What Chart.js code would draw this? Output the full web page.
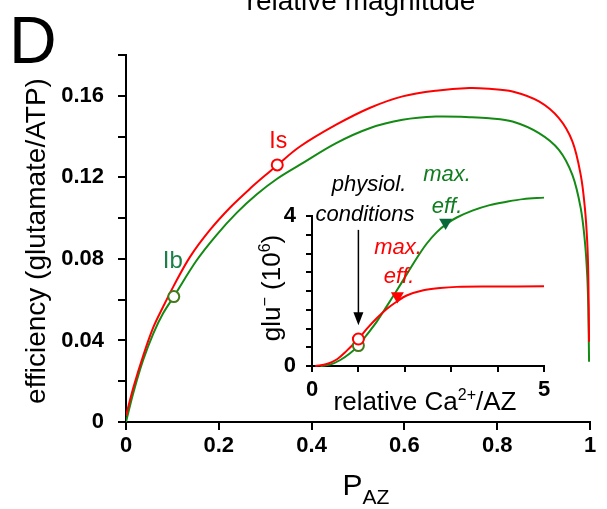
<!DOCTYPE html>
<html lang="en">
<head>
<meta charset="UTF-8" />
<title>Efficiency vs P_AZ</title>
<script src="https://cdn.jsdelivr.net/npm/chart.js"></script>
<style>
  * { margin: 0; padding: 0; box-sizing: border-box; }
  body { background: #fff; width: 607px; height: 509px; overflow: hidden; position: relative; }
  #main { position: absolute; left: 0; top: 0; }
  #inset { position: absolute; left: 250px; top: 150px; }
</style>
</head>
<body>
<canvas id="main" width="607" height="509"></canvas>
<canvas id="inset" width="320" height="280"></canvas>
<script>
// main panel: efficiency vs P_AZ
const redP = [0, 0.016, 0.037, 0.059, 0.08, 0.102, 0.138, 0.181, 0.224, 0.267, 0.31, 0.326, 0.375, 0.453, 0.525, 0.596, 0.668, 0.74, 0.783, 0.833, 0.89, 0.933, 0.962, 0.98, 0.989, 0.994, 0.9963, 0.998];
const redEff = [0.003, 0.017, 0.0325, 0.0465, 0.0565, 0.0664, 0.081, 0.0942, 0.1051, 0.1144, 0.1229, 0.126, 0.1351, 0.1458, 0.154, 0.1597, 0.1625, 0.1638, 0.1634, 0.1621, 0.1572, 0.149, 0.1376, 0.1212, 0.1049, 0.0885, 0.0721, 0.0394];
const greenP = [0, 0.016, 0.037, 0.059, 0.08, 0.103, 0.152, 0.195, 0.239, 0.282, 0.325, 0.375, 0.453, 0.525, 0.596, 0.668, 0.74, 0.783, 0.833, 0.89, 0.933, 0.962, 0.98, 0.989, 0.994, 0.9963, 0.998];
const greenEff = [0, 0.0145, 0.0304, 0.0435, 0.0533, 0.0615, 0.0792, 0.0917, 0.1027, 0.1117, 0.1192, 0.1262, 0.1368, 0.1441, 0.1482, 0.1498, 0.1495, 0.149, 0.1474, 0.1417, 0.1335, 0.1212, 0.1049, 0.0885, 0.0721, 0.056, 0.0296];
const isPoint = [0.326, 0.1261];   // Is
const ibPoint = [0.103, 0.0615];   // Ib
const xTicksMain = [0, 0.2, 0.4, 0.6, 0.8, 1];
const yTicksMain = [0, 0.02, 0.04, 0.06, 0.08, 0.1, 0.12, 0.14, 0.16, 0.18];
const yLabelsMain = [0, 0.04, 0.08, 0.12, 0.16];

// inset: glu- (10^6) vs relative Ca2+/AZ
const greenCa = [0.18, 0.39, 0.61, 0.82, 1.0, 1.18, 1.4, 1.61, 1.83, 2.04, 2.26, 2.47, 2.69, 2.9, 3.12, 3.47, 3.83, 4.19, 4.55, 5.0];
const greenGlu = [0, 0.036, 0.16, 0.34, 0.545, 0.83, 1.19, 1.59, 2.02, 2.44, 2.88, 3.26, 3.57, 3.79, 3.96, 4.15, 4.29, 4.38, 4.45, 4.49];
const redCa = [0.07, 0.32, 0.54, 0.75, 1.0, 1.18, 1.4, 1.61, 1.83, 2.04, 2.4, 2.76, 3.12, 3.83, 5.0];
const redGlu = [0, 0.054, 0.18, 0.41, 0.72, 0.99, 1.28, 1.52, 1.72, 1.88, 2.02, 2.08, 2.11, 2.12, 2.125];
const xTicksInset = [0, 1, 2, 3, 4, 5];
const yTicksInset = [0, 0.5, 1, 1.5, 2, 2.5, 3, 3.5, 4];
const physiol = { ca: 1.0, red: 0.72, green: 0.545 };
const maxEffRed = [1.84, 1.87];
const maxEffGreen = [2.88, 3.83];
const arrowFrom = 3.63, arrowTo = 1.09;

const FONT = '"Liberation Sans", Arial, sans-serif';
const RED = '#ff0000';
const GREEN = '#138a13';
const OLIVE = '#447a1a';

Chart.defaults.color = '#000';
Chart.defaults.font.family = FONT;

const pts = (xs, ys) => xs.map((x, i) => ({ x: x, y: ys[i] }));

// draw text pieces (with sub/superscripts) centred on cx
function rich(ctx, parts, cx, base) {
  let w = 0;
  parts.forEach(p => { ctx.font = (p[3] || '') + ' ' + p[1] + 'px ' + FONT; w += ctx.measureText(p[0]).width; });
  let x = cx - w / 2;
  ctx.textAlign = 'left';
  ctx.textBaseline = 'alphabetic';
  parts.forEach(p => {
    ctx.font = (p[3] || '') + ' ' + p[1] + 'px ' + FONT;
    ctx.fillText(p[0], x, base + p[2]);
    x += ctx.measureText(p[0]).width;
  });
}

function axis(opts) {
  return {
    type: 'linear', min: opts.min, max: opts.max,
    grid: { display: true, drawOnChartArea: false, drawTicks: true, tickLength: opts.tickLen, color: '#000', lineWidth: 2 },
    border: { display: true, color: '#000', width: 2 },
    ticks: {
      padding: opts.pad, font: { size: opts.size, weight: 'bold' }, color: '#000', maxRotation: 0, autoSkip: false,
      callback: v => opts.labels.some(t => Math.abs(t - v) < 1e-9) ? String(+v.toFixed(2)) : ''
    },
    afterFit: opts.fit,
    afterBuildTicks: s => { s.ticks = opts.ticks.map(v => ({ value: v })); }
  };
}

const mainText = {
  id: 'mainText',
  afterDraw(chart) {
    const ctx = chart.ctx, x = chart.scales.x, y = chart.scales.y;
    ctx.save();
    ctx.fillStyle = '#000';
    ctx.textAlign = 'left';
    ctx.font = '66px ' + FONT;
    ctx.fillText('D', 9, 63);
    ctx.textAlign = 'center';
    ctx.font = '28px ' + FONT;
    ctx.fillText('relative magnitude', 361, 10);
    rich(ctx, [['P', 30, 0], ['AZ', 21, 9]], 366, 495);

    ctx.save();
    ctx.translate(37, 241);
    ctx.rotate(-Math.PI / 2);
    rich(ctx, [['efficiency (glutamate/ATP)', 28, 0]], 0, 8);
    ctx.restore();

    ctx.textAlign = 'center';
    ctx.font = '23px ' + FONT;
    ctx.fillStyle = RED;
    ctx.fillText('Is', x.getPixelForValue(isPoint[0]) + 1, y.getPixelForValue(isPoint[1]) - 17);
    ctx.fillStyle = '#1b7f48';
    ctx.font = '24px ' + FONT;
    ctx.fillText('Ib', x.getPixelForValue(ibPoint[0]) - 1, y.getPixelForValue(ibPoint[1]) - 29);
    ctx.restore();
  }
};

new Chart(document.getElementById('main'), {
  type: 'line',
  data: {
    datasets: [
      { data: [{ x: isPoint[0], y: isPoint[1] }], showLine: false, pointRadius: 5.5, pointBorderWidth: 2,
        pointBorderColor: RED, pointBackgroundColor: '#fff' },
      { data: [{ x: ibPoint[0], y: ibPoint[1] }], showLine: false, pointRadius: 5.5, pointBorderWidth: 2,
        pointBorderColor: OLIVE, pointBackgroundColor: '#fff' },
      { data: pts(redP, redEff), borderColor: RED, borderWidth: 2, pointRadius: 0, tension: 0.35 },
      { data: pts(greenP, greenEff), borderColor: GREEN, borderWidth: 2, pointRadius: 0, tension: 0.35 }
    ]
  },
  options: {
    responsive: false,
    animation: false,
    layout: { padding: { left: 0, top: 55, right: 17, bottom: 0 } },
    plugins: { legend: { display: false }, tooltip: { enabled: false } },
    scales: {
      x: axis({ min: 0, max: 1, tickLen: 8, pad: 3, size: 22, ticks: xTicksMain, labels: xTicksMain,
                fit: s => { s.height = 87; } }),
      y: axis({ min: 0, max: 0.18, tickLen: 8, pad: 14, size: 22, ticks: yTicksMain, labels: yLabelsMain,
                fit: s => { s.width = 126; } })
    }
  },
  plugins: [mainText]
});

const insetText = {
  id: 'insetText',
  afterDatasetsDraw(chart) {
    const ctx = chart.ctx, x = chart.scales.x, y = chart.scales.y;
    ctx.save();
    // arrow to physiological conditions
    const ax = x.getPixelForValue(physiol.ca);
    const y0 = y.getPixelForValue(arrowFrom), y1 = y.getPixelForValue(arrowTo);
    ctx.strokeStyle = '#000';
    ctx.fillStyle = '#000';
    ctx.lineWidth = 1.5;
    ctx.beginPath(); ctx.moveTo(ax, y0); ctx.lineTo(ax, y1 - 10); ctx.stroke();
    ctx.beginPath(); ctx.moveTo(ax - 5, y1 - 13); ctx.lineTo(ax + 5, y1 - 13); ctx.lineTo(ax, y1); ctx.closePath(); ctx.fill();

    ctx.textAlign = 'center';
    ctx.textBaseline = 'middle';
    ctx.font = 'italic 22px ' + FONT;
    ctx.fillText('physiol.', 119, 35);
    ctx.fillText('conditions', 115, 65);
    ctx.fillStyle = '#0f7d20';
    ctx.fillText('max.', 197, 25);
    ctx.fillText('eff.', 197, 57);
    ctx.fillStyle = RED;
    ctx.fillText('max.', 148, 98);
    ctx.fillText('eff.', 149, 127);

    ctx.fillStyle = '#000';
    rich(ctx, [['relative Ca', 26, 0], ['2+', 16, -10], ['/AZ', 26, 0]], 175, 260);
    ctx.save();
    ctx.translate(23, 138);
    ctx.rotate(-Math.PI / 2);
    rich(ctx, [['glu', 26, 0], ['\u2212', 16, -10], [' (10', 26, 0], ['6', 16, -10], [')', 26, 0]], 0, 7);
    ctx.restore();
    ctx.restore();
  }
};

new Chart(document.getElementById('inset'), {
  type: 'line',
  data: {
    datasets: [
      { data: [{ x: physiol.ca, y: physiol.red }], showLine: false, pointRadius: 5.5, pointBorderWidth: 2,
        pointBorderColor: RED, pointBackgroundColor: '#fff' },
      { data: [{ x: physiol.ca, y: physiol.green }], showLine: false, pointRadius: 5.5, pointBorderWidth: 2,
        pointBorderColor: OLIVE, pointBackgroundColor: '#fff' },
      { data: [{ x: maxEffRed[0], y: maxEffRed[1] }], showLine: false, pointStyle: 'triangle', rotation: 180,
        pointRadius: 7.5, pointBorderWidth: 0, pointBackgroundColor: RED, clip: false },
      { data: [{ x: maxEffGreen[0], y: maxEffGreen[1] }], showLine: false, pointStyle: 'triangle', rotation: 180,
        pointRadius: 7.5, pointBorderWidth: 0, pointBackgroundColor: '#08683a', clip: false },
      { data: pts(redCa, redGlu), borderColor: RED, borderWidth: 2, pointRadius: 0, tension: 0.35, clip: false },
      { data: pts(greenCa, greenGlu), borderColor: GREEN, borderWidth: 2, pointRadius: 0, tension: 0.35, clip: false }
    ]
  },
  options: {
    responsive: false,
    animation: false,
    layout: { padding: { left: 0, top: 66, right: 26, bottom: 0 } },
    plugins: { legend: { display: false }, tooltip: { enabled: false } },
    scales: {
      x: axis({ min: 0, max: 5, tickLen: 6, pad: 5, size: 22, ticks: xTicksInset, labels: [0, 5],
                fit: s => { s.height = 64; } }),
      y: axis({ min: 0, max: 4, tickLen: 6, pad: 10, size: 22, ticks: yTicksInset, labels: [0, 4],
                fit: s => { s.width = 62; } })
    }
  },
  plugins: [insetText]
});
</script>
</body>
</html>
